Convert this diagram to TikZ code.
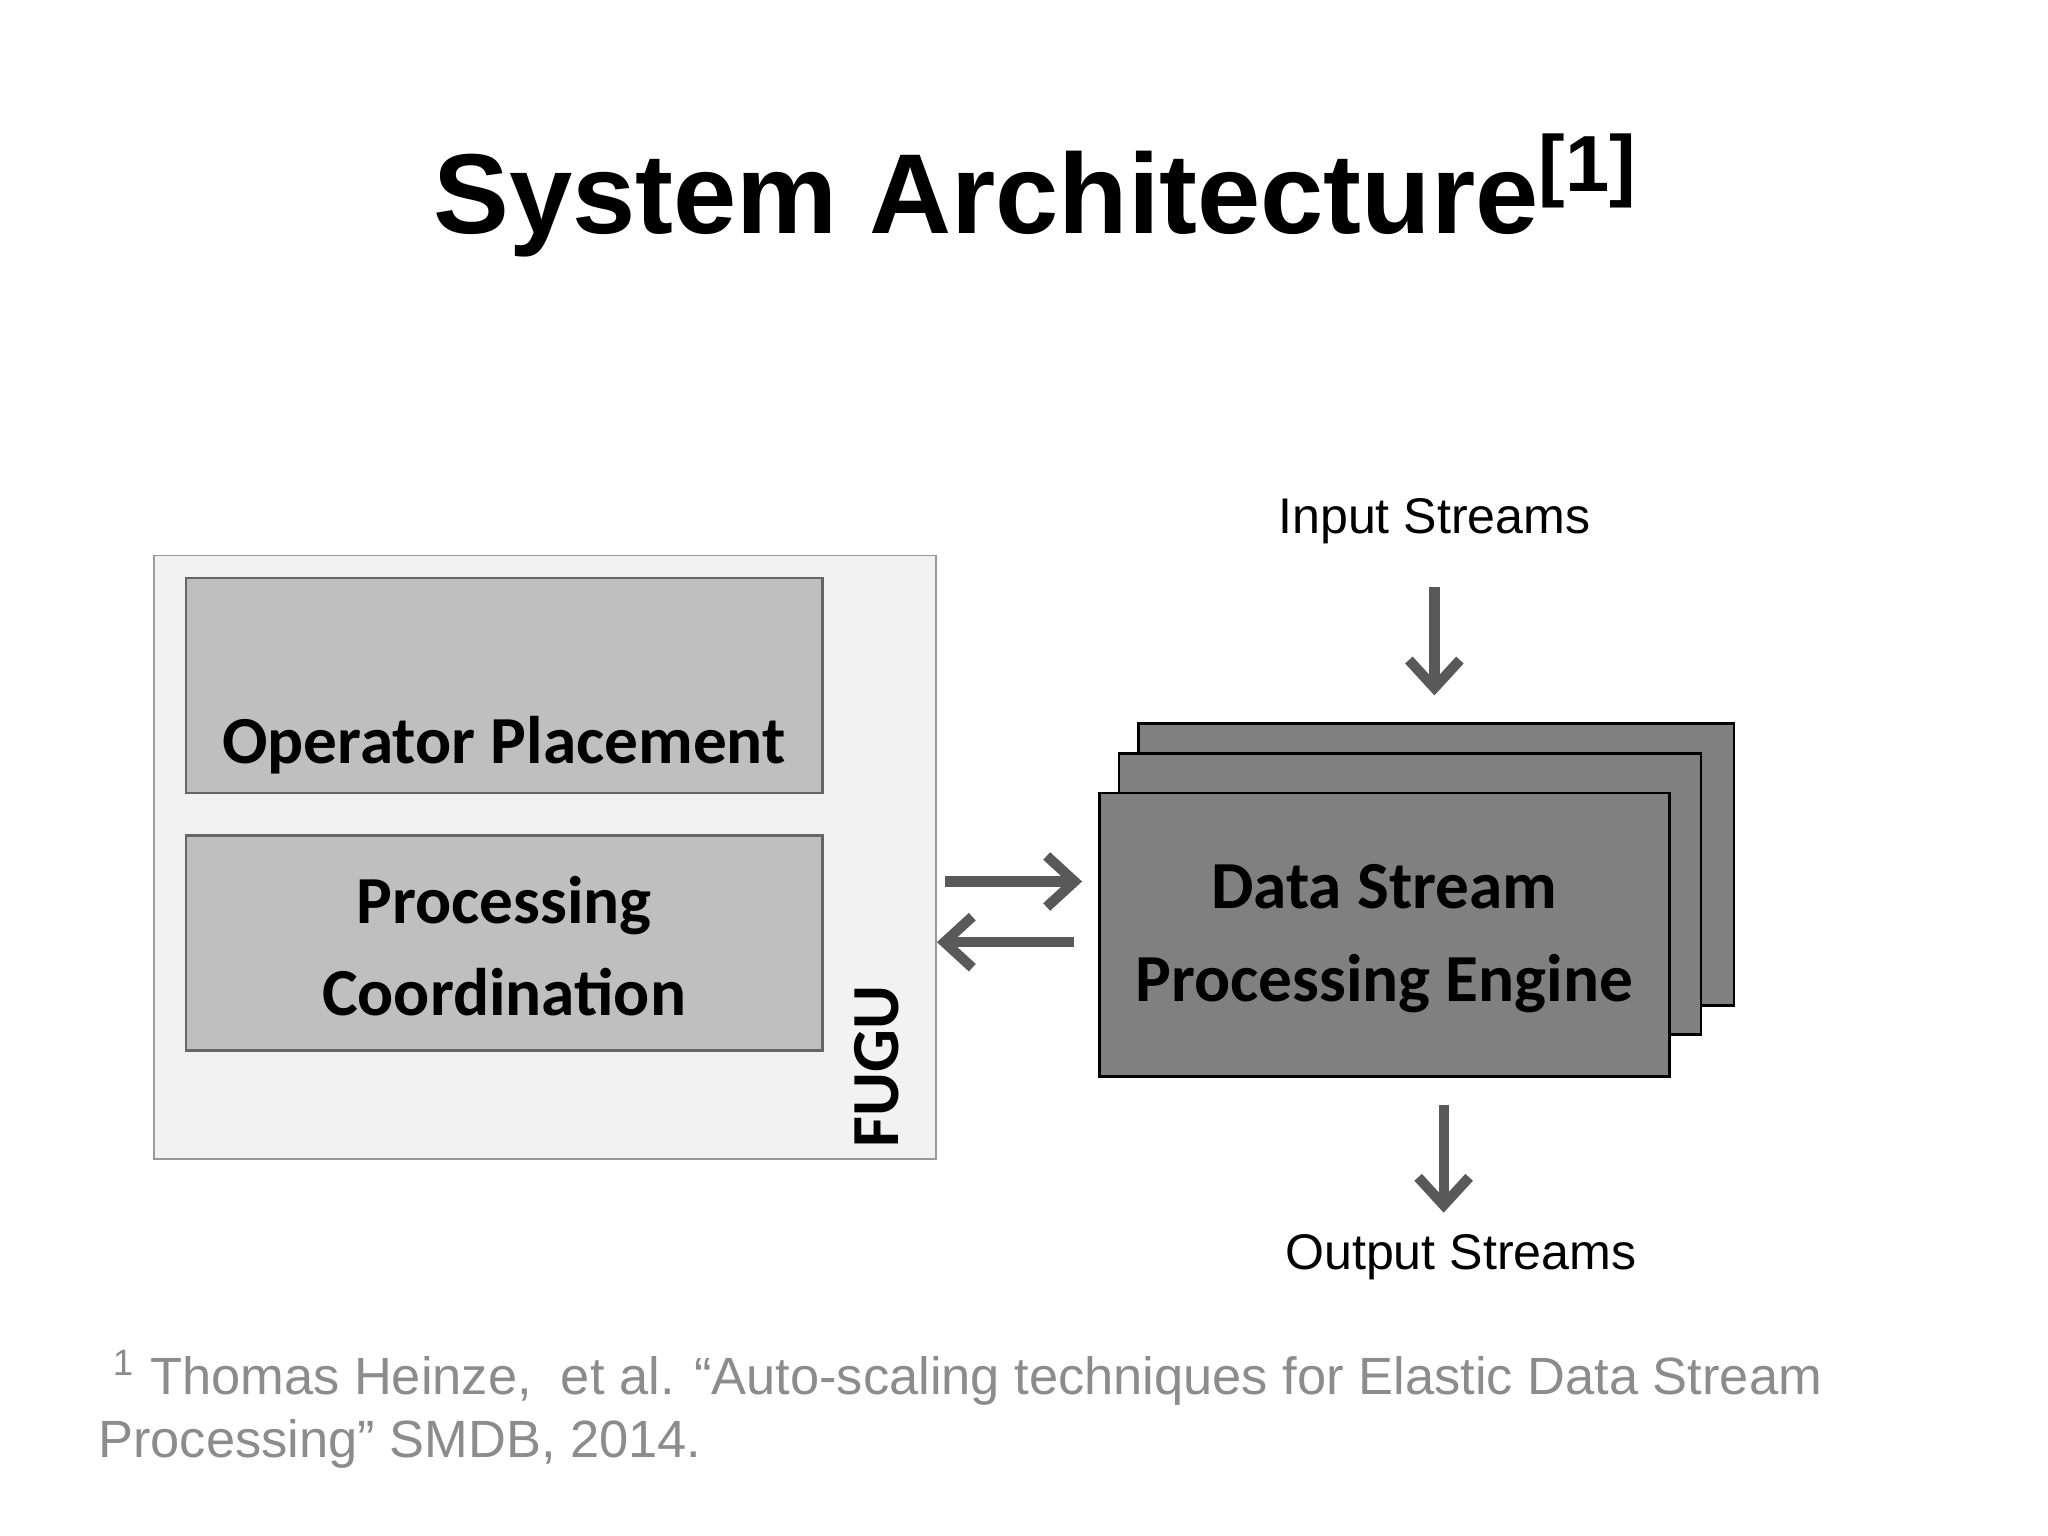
\documentclass[tikz,border=0pt]{standalone}
\usepackage{fontspec}
\usetikzlibrary{arrows.meta}
\setmainfont{Liberation Sans}
\newfontfamily\calfont{Carlito}
\begin{document}
\begin{tikzpicture}[x=0.01cm,y=-0.01cm,
  inner/.style={draw=black!60,fill=black!25,line width=0.6pt},
  eng/.style={draw=black,fill=black!50,line width=0.6pt},
  arr/.style={draw=black!65,line width=2.2pt,->,>={Straight Barb[length=6pt,width=11pt]}},
  lbl/.style={font=\calfont\bfseries\fontsize{14.5}{17}\selectfont,align=center},
  stxt/.style={font=\fontsize{10.8}{13}\selectfont}]
\useasboundingbox (0,0) rectangle (1552,1164);
\node (title) at (785,148) {\fontsize{24.5}{28}\selectfont\bfseries System Architecture\textsuperscript{[1]}};
\draw[draw=black!40,fill=black!5] (117,421) rectangle (709,878);
\draw[inner] (141,438) rectangle (623,601);
\node[lbl] (opt) at (382,565) {Operator Placement};
\draw[inner] (141,633) rectangle (623,796);
\node[lbl] (pc) at (382,717) {Processing\\[3pt]Coordination};
\node[lbl,rotate=90] (fugu) at (664,808) {FUGU};
\draw[eng] (863,548) rectangle (1314,762);
\draw[eng] (848,571) rectangle (1289,784);
\draw[eng] (833,601) rectangle (1265,816);
\node[lbl] (dsp) at (1049,711) {Data Stream\\[3pt]Processing Engine};
\coordinate (a1) at (716,668); \coordinate (a2) at (820,668);
\coordinate (b1) at (814,714); \coordinate (b2) at (710,714);
\draw[arr] (a1) -- (a2);
\draw[arr] (b1) -- (b2);
\node[stxt] (in) at (1087,395) {Input Streams};
\coordinate (i1) at (1087,445); \coordinate (i2) at (1087,527);
\draw[arr] (i1) -- (i2);
\coordinate (o1) at (1094,837); \coordinate (o2) at (1094,919);
\draw[arr] (o1) -- (o2);
\node[stxt] (out) at (1107,953) {Output Streams};
\node[anchor=west,text=black!45,font=\fontsize{11.3}{13.5}\selectfont,align=left] (fn) at (62,1068)
{\ \textsuperscript{1} Thomas Heinze,\ \ et al. “Auto-scaling techniques for Elastic Data Stream\\Processing” SMDB, 2014.};
\end{tikzpicture}
\end{document}
